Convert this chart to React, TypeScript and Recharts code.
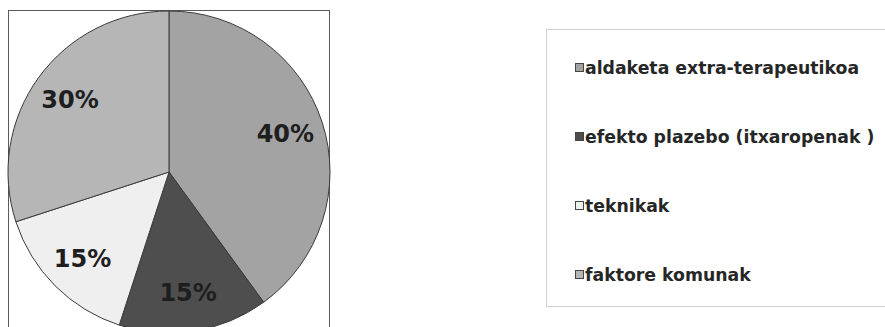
import React from 'react'
import { PieChart, Pie, Cell, Legend } from 'recharts'

const categories = ['aldaketa extra-terapeutikoa', 'efekto plazebo (itxaropenak )', 'teknikak', 'faktore komunak']
const shares = [40, 15, 15, 30]
const colors = ['#a3a3a3', '#4e4e4e', '#efefef', '#b6b6b6']

const data = categories.map((name, i) => ({ name, value: shares[i] }))

const RAD = Math.PI / 180

const renderLabel = ({ cx, cy, midAngle, outerRadius, value }: any) => {
  const r = outerRadius * 0.76
  const x = cx + r * Math.cos(-midAngle * RAD)
  const y = cy + r * Math.sin(-midAngle * RAD)
  return (
    <text x={x} y={y} textAnchor="middle" dominantBaseline="central"
      fontFamily="DejaVu Sans" fontWeight="bold" fontSize={24} fill="#1e1e1e">
      {value}%
    </text>
  )
}

const LegendBox = ({ payload }: any) => {
  const items = [...(payload || [])].sort((a: any, b: any) => categories.indexOf(a.value) - categories.indexOf(b.value))
  return (
    <div style={{ width: 360, height: 278, border: '1px solid #cfcfcf', boxSizing: 'border-box', paddingLeft: 28, paddingTop: 3 }}>
      {items.map((p: any, i: number) => (
        <div key={i} style={{ display: 'flex', alignItems: 'center', height: 69 }}>
          <span style={{ width: 7, height: 7, background: p.color, border: '1px solid #444', marginRight: 1, display: 'inline-block' }} />
          <span style={{ fontFamily: 'DejaVu Sans', fontWeight: 'bold', fontSize: 17.3, color: '#262626', whiteSpace: 'nowrap' }}>{p.value}</span>
        </div>
      ))}
    </div>
  )
}

export default function App() {
  return (
    <div style={{ position: 'relative', width: 885, height: 327, overflow: 'hidden', background: '#fff' }}>
      <style>{'html,body{margin:0;padding:0;overflow:hidden}'}</style>
      <div style={{ position: 'absolute', left: 8, top: 10, width: 322, height: 340, border: '1px solid #5a5a5a', boxSizing: 'border-box' }} />
      <div style={{ position: 'absolute', left: 0, top: 0 }}>
        <PieChart width={920} height={340} margin={{ top: 0, right: 0, bottom: 0, left: 0 }}>
          <Pie data={data} dataKey="value" nameKey="name" cx={169} cy={172} outerRadius={161}
            startAngle={90} endAngle={-270} stroke="#3a3a3a" strokeWidth={1}
            label={renderLabel} labelLine={false} isAnimationActive={false}>
            {data.map((d, i) => <Cell key={d.name} fill={colors[i]} />)}
          </Pie>
          <Legend layout="vertical" content={<LegendBox />}
            wrapperStyle={{ left: 546, top: 29, width: 360 }} />
        </PieChart>
      </div>
    </div>
  )
}
